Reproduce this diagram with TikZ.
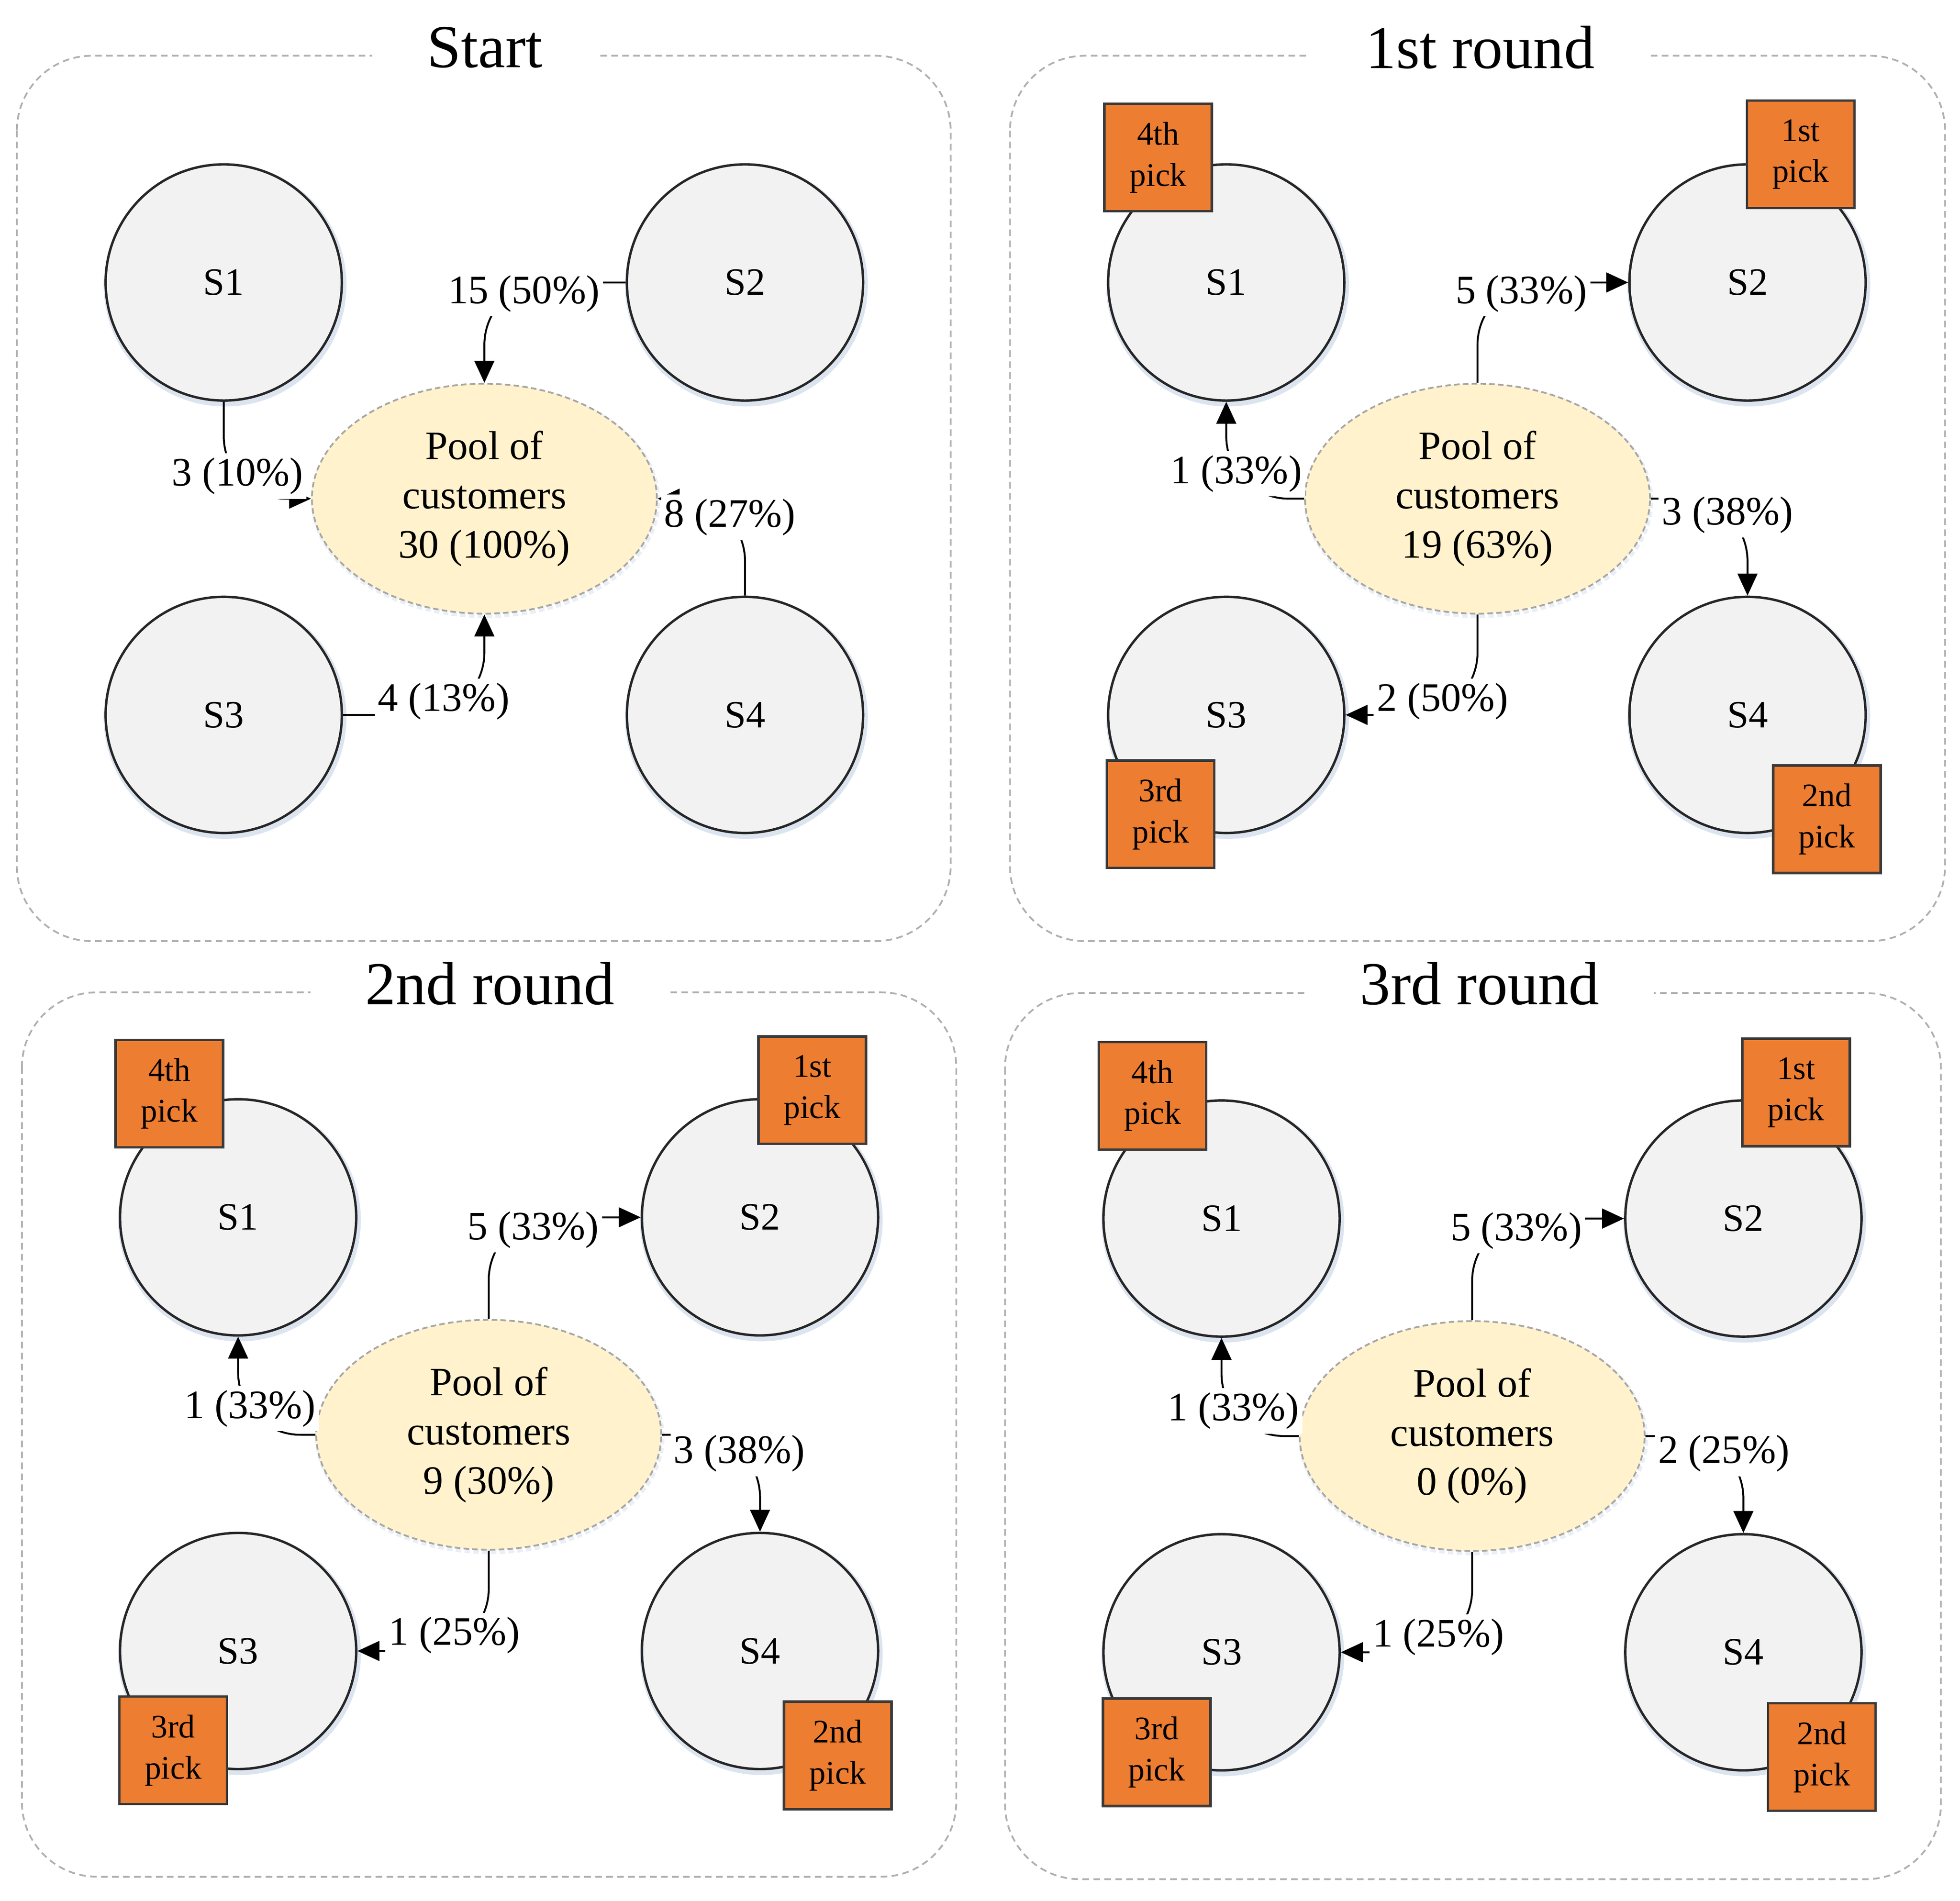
\documentclass[tikz,border=0pt]{standalone}
\usepackage{fontspec}
\setmainfont{Liberation Serif}
\usetikzlibrary{shapes.geometric,arrows.meta}
\definecolor{circfill}{HTML}{F2F2F2}
\definecolor{circline}{HTML}{262626}
\definecolor{shadowc}{HTML}{DCE4F0}
\definecolor{poolfill}{HTML}{FFF2CC}
\definecolor{poolline}{HTML}{A6A6A6}
\definecolor{pickfill}{HTML}{ED7D31}
\definecolor{pickline}{HTML}{3A3A3A}
\definecolor{panelline}{HTML}{B0B0B0}
\begin{document}
\begin{tikzpicture}[x=0.02cm,y=-0.02cm,
  panel/.style={draw=panelline, dash pattern=on 3pt off 2pt, line width=0.8pt, rounded corners=1.2cm},
  ttl/.style={fill=white, inner xsep=0.88cm, inner ysep=2pt, font=\fontsize{27.8}{33}\selectfont},
  circ/.style={circle, minimum size=3.78cm, inner sep=0pt, fill=circfill, draw=circline, line width=1.1pt,
    font=\fontsize{17.6}{21}\selectfont,
    preaction={draw=shadowc, line width=3pt, transform canvas={xshift=0.6pt,yshift=-1.2pt}}},
  pool/.style={ellipse, minimum width=5.52cm, minimum height=3.68cm, inner sep=0pt, fill=poolfill,
    draw=poolline, dash pattern=on 2.5pt off 1.5pt, line width=0.8pt, align=center,
    font=\fontsize{18.4}{22.4}\selectfont,
    preaction={draw=shadowc!60, line width=2pt, transform canvas={xshift=0.5pt,yshift=-1pt}}},
  conn/.style={line width=0.85pt, rounded corners=1cm, -{Triangle[length=10pt,width=9pt]}},
  lab/.style={fill=white, inner xsep=1.5pt, inner ysep=2pt, font=\fontsize{18.4}{22}\selectfont},
  pick/.style={draw=pickline, fill=pickfill, line width=1.1pt, minimum size=1.72cm, inner sep=0pt,
    align=center, font=\fontsize{15}{18.7}\selectfont}
]
\useasboundingbox (0,0) rectangle (1568,1521);

% ---------------- Start ----------------
\draw[panel] (13.5,44.6) rectangle (760.5,753);
\node[ttl] (aT) at (388,38) {Start};
\node[circ] (aS1) at (179,226) {S1};
\node[circ] (aS2) at (596,226) {S2};
\node[circ] (aS3) at (179,572) {S3};
\node[circ] (aS4) at (596,572) {S4};
\node[pool] (aP) at (387.5,399) {Pool of\\customers\\30 (100\%)};
\draw[conn] (aS2.west) -| (aP.north);
\draw[conn] (aS1.south) |- (aP.west);
\draw[conn] (aS4.north) |- (aP.east);
\draw[conn] (aS3.east) -| (aP.south);
\node[lab] (aL2) at (419,235) {15 (50\%)};
\node[lab] (aL1) at (190,381) {3 (10\%)};
\node[lab] (aL4) at (584,414) {8 (27\%)};
\node[lab] (aL3) at (355,561) {4 (13\%)};

% ---------------- 1st round ----------------
\draw[panel] (808,44.6) rectangle (1556,753);
\node[ttl] (bT) at (1184,38) {1st round};
\node[circ] (bS1) at (981,226) {S1};
\node[circ] (bS2) at (1398,226) {S2};
\node[circ] (bS3) at (981,572) {S3};
\node[circ] (bS4) at (1398,572) {S4};
\node[pool] (bP) at (1182,399) {Pool of\\customers\\19 (63\%)};
\draw[conn] (bP.north) |- (bS2.west);
\draw[conn] (bP.west) -| (bS1.south);
\draw[conn] (bP.east) -| (bS4.north);
\draw[conn] (bP.south) |- (bS3.east);
\node[lab] (bL2) at (1217,235) {5 (33\%)};
\node[lab] (bL1) at (989,379) {1 (33\%)};
\node[lab] (bL4) at (1382,412) {3 (38\%)};
\node[lab] (bL3) at (1154,561) {2 (50\%)};
\node[pick] (bK1) at (926.5,126) {4th\\pick};
\node[pick] (bK2) at (1440.5,123.5) {1st\\pick};
\node[pick] (bK3) at (928.5,651.5) {3rd\\pick};
\node[pick] (bK4) at (1461.5,655.5) {2nd\\pick};

% ---------------- 2nd round ----------------
\draw[panel] (17.5,794) rectangle (765,1501.6);
\node[ttl] (cT) at (392,787) {2nd round};
\node[circ] (cS1) at (190.5,974) {S1};
\node[circ] (cS2) at (608,974) {S2};
\node[circ] (cS3) at (190.5,1321) {S3};
\node[circ] (cS4) at (608,1321) {S4};
\node[pool] (cP) at (391,1148) {Pool of\\customers\\9 (30\%)};
\draw[conn] (cP.north) |- (cS2.west);
\draw[conn] (cP.west) -| (cS1.south);
\draw[conn] (cP.east) -| (cS4.north);
\draw[conn] (cP.south) |- (cS3.east);
\node[lab] (cL2) at (426.5,984) {5 (33\%)};
\node[lab] (cL1) at (200,1127) {1 (33\%)};
\node[lab] (cL4) at (591.5,1163) {3 (38\%)};
\node[lab] (cL3) at (363.5,1308.6) {1 (25\%)};
\node[pick] (cK1) at (135.5,875) {4th\\pick};
\node[pick] (cK2) at (649.75,872.25) {1st\\pick};
\node[pick] (cK3) at (138.5,1400.5) {3rd\\pick};
\node[pick] (cK4) at (670.25,1404.5) {2nd\\pick};

% ---------------- 3rd round ----------------
\draw[panel] (804,794.6) rectangle (1552.7,1503.6);
\node[ttl] (dT) at (1183.7,787) {3rd round};
\node[circ] (dS1) at (977.2,975) {S1};
\node[circ] (dS2) at (1394.7,975) {S2};
\node[circ] (dS3) at (977.2,1322) {S3};
\node[circ] (dS4) at (1394.7,1322) {S4};
\node[pool] (dP) at (1177.7,1149) {Pool of\\customers\\0 (0\%)};
\draw[conn] (dP.north) |- (dS2.west);
\draw[conn] (dP.west) -| (dS1.south);
\draw[conn] (dP.east) -| (dS4.north);
\draw[conn] (dP.south) |- (dS3.east);
\node[lab] (dL2) at (1213,984.7) {5 (33\%)};
\node[lab] (dL1) at (986.7,1129) {1 (33\%)};
\node[lab] (dL4) at (1379,1163) {2 (25\%)};
\node[lab] (dL3) at (1150.7,1310) {1 (25\%)};
\node[pick] (dK1) at (922,876.75) {4th\\pick};
\node[pick] (dK2) at (1436.85,874.1) {1st\\pick};
\node[pick] (dK3) at (925.35,1402) {3rd\\pick};
\node[pick] (dK4) at (1457.5,1405.85) {2nd\\pick};
\end{tikzpicture}
\end{document}
